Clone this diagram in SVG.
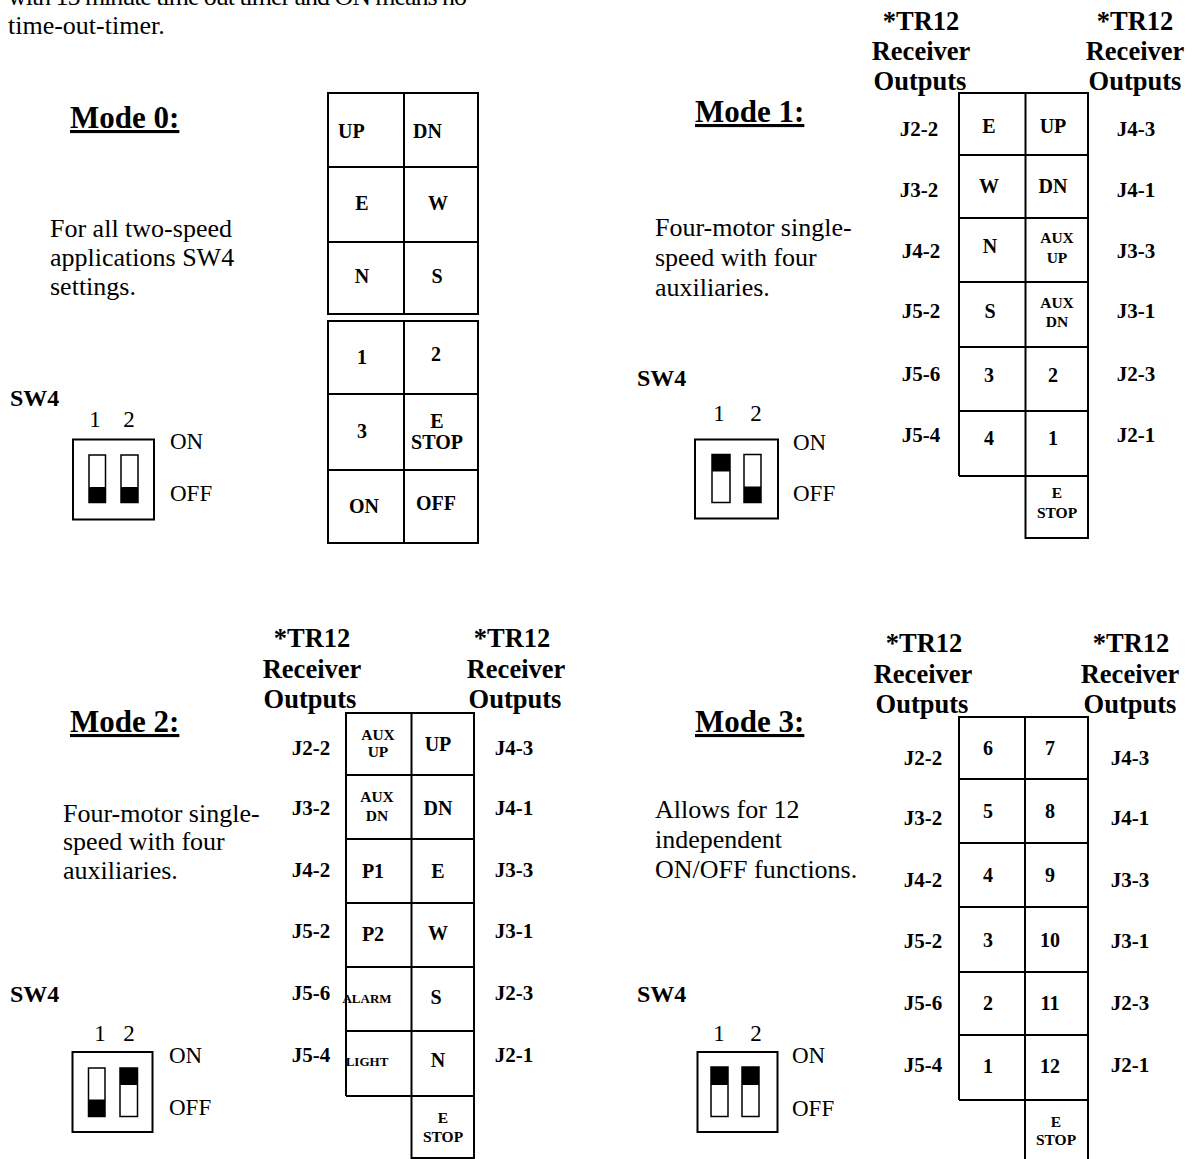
<svg xmlns="http://www.w3.org/2000/svg" width="1196" height="1159" viewBox="0 0 1196 1159">
<style>
text { font-family: "Liberation Serif", "Times New Roman", serif; fill: #000; }
.body { font-size: 26px; }
.mode { font-size: 31px; font-weight: bold; text-decoration: underline; }
.sw { font-size: 24px; font-weight: bold; }
.hdr { font-size: 26.5px; font-weight: bold; text-anchor: middle; }
.j { font-size: 21px; font-weight: bold; text-anchor: middle; }
.c { font-size: 20px; font-weight: bold; text-anchor: middle; }
.s { font-size: 15.5px; font-weight: bold; text-anchor: middle; }
.xs { font-size: 13px; font-weight: bold; text-anchor: middle; }
.dip { font-size: 23px; }
.num { font-size: 23px; text-anchor: middle; }
.grid { fill: none; stroke: #000; stroke-width: 2; }
.box { fill: #fff; stroke: #000; stroke-width: 2; }
.sl { fill: #fff; stroke: #000; stroke-width: 1.5; }
.knob { fill: #000; }
</style>
<rect width="1196" height="1159" fill="#fff"/>

<g id="intro">
<text class="body" x="8" y="5" textLength="459" lengthAdjust="spacing">with 15 minute time out timer and ON means no</text>
<text class="body" x="8" y="34">time-out-timer.</text>
</g>

<!-- Mode 0 -->
<g id="mode0-text">
<text class="mode" x="70" y="128">Mode 0:</text>
<text class="body" x="50" y="237">For all two-speed</text>
<text class="body" x="50" y="266">applications SW4</text>
<text class="body" x="50" y="295">settings.</text>
<text class="sw" x="10" y="406">SW4</text>
</g>
<g id="mode0-switch">
<text class="num" x="95" y="427">1</text>
<text class="num" x="129" y="427">2</text>
<rect class="box" x="73" y="439.5" width="81" height="80"/>
<rect class="sl" x="89" y="455" width="16.5" height="47.5"/>
<rect class="knob" x="89" y="487" width="16.5" height="15.5"/>
<rect class="sl" x="121" y="455" width="17" height="47.5"/>
<rect class="knob" x="121" y="487" width="17" height="15.5"/>
<text class="dip" x="170" y="449">ON</text>
<text class="dip" x="170" y="501">OFF</text>
</g>
<g id="mode0-grid">
<rect class="grid" x="328" y="93" width="150" height="221"/>
<rect class="grid" x="328" y="321" width="150" height="222"/>
<path class="grid" d="M404 93V314M404 321V543M328 167H478M328 242H478M328 394H478M328 470H478"/>
<text class="c" x="338" y="138" style="text-anchor:start">UP</text>
<text class="c" x="413" y="138" style="text-anchor:start">DN</text>
<text class="c" x="362" y="210">E</text>
<text class="c" x="438" y="210">W</text>
<text class="c" x="362" y="283">N</text>
<text class="c" x="437" y="283">S</text>
<text class="c" x="362" y="364">1</text>
<text class="c" x="436" y="361">2</text>
<text class="c" x="362" y="438">3</text>
<text class="c" x="437" y="428">E</text>
<text class="c" x="437" y="449">STOP</text>
<text class="c" x="364" y="513">ON</text>
<text class="c" x="436" y="510">OFF</text>
</g>

<!-- Mode 1 -->
<g id="mode1-text">
<text class="mode" x="695" y="122">Mode 1:</text>
<text class="body" x="655" y="236">Four-motor single-</text>
<text class="body" x="655" y="266">speed with four</text>
<text class="body" x="655" y="296">auxiliaries.</text>
<text class="sw" x="637" y="386">SW4</text>
</g>
<g id="mode1-switch">
<text class="num" x="719" y="421">1</text>
<text class="num" x="756" y="421">2</text>
<rect class="box" x="695" y="439.5" width="83" height="79"/>
<rect class="sl" x="712" y="454.5" width="18" height="48"/>
<rect class="knob" x="712" y="454.5" width="18" height="17"/>
<rect class="sl" x="744" y="454.5" width="17" height="48"/>
<rect class="knob" x="744" y="486.5" width="17" height="16"/>
<text class="dip" x="793" y="450">ON</text>
<text class="dip" x="793" y="501">OFF</text>
</g>
<g id="mode1-headers">
<text class="hdr" x="921" y="30">*TR12</text>
<text class="hdr" x="921" y="60">Receiver</text>
<text class="hdr" x="920" y="90">Outputs</text>
<text class="hdr" x="1135" y="30">*TR12</text>
<text class="hdr" x="1135" y="60">Receiver</text>
<text class="hdr" x="1135" y="90">Outputs</text>
</g>
<g id="mode1-grid">
<path class="grid" d="M959 476V93H1088V538H1025.5V93M959 476H1088M959 155H1088M959 218H1088M959 282H1088M959 347H1088M959 411H1088"/>
<text class="j" x="919" y="136">J2-2</text>
<text class="j" x="919" y="197">J3-2</text>
<text class="j" x="921" y="258">J4-2</text>
<text class="j" x="921" y="318">J5-2</text>
<text class="j" x="921" y="381">J5-6</text>
<text class="j" x="921" y="442">J5-4</text>
<text class="j" x="1136" y="136">J4-3</text>
<text class="j" x="1136" y="197">J4-1</text>
<text class="j" x="1136" y="258">J3-3</text>
<text class="j" x="1136" y="318">J3-1</text>
<text class="j" x="1136" y="381">J2-3</text>
<text class="j" x="1136" y="442">J2-1</text>
<text class="c" x="989" y="133">E</text>
<text class="c" x="1053" y="133">UP</text>
<text class="c" x="989" y="193">W</text>
<text class="c" x="1053" y="193">DN</text>
<text class="c" x="990" y="253">N</text>
<text class="s" x="1057" y="243">AUX</text>
<text class="s" x="1057" y="263">UP</text>
<text class="c" x="990" y="318">S</text>
<text class="s" x="1057" y="308">AUX</text>
<text class="s" x="1057" y="327">DN</text>
<text class="c" x="989" y="382">3</text>
<text class="c" x="1053" y="382">2</text>
<text class="c" x="989" y="445">4</text>
<text class="c" x="1053" y="445">1</text>
<text class="s" x="1057" y="498">E</text>
<text class="s" x="1057" y="518">STOP</text>
</g>

<!-- Mode 2 -->
<g id="mode2-text">
<text class="mode" x="70" y="732">Mode 2:</text>
<text class="body" x="63" y="822">Four-motor single-</text>
<text class="body" x="63" y="850">speed with four</text>
<text class="body" x="63" y="879">auxiliaries.</text>
<text class="sw" x="10" y="1002">SW4</text>
</g>
<g id="mode2-switch">
<text class="num" x="100" y="1041">1</text>
<text class="num" x="129" y="1041">2</text>
<rect class="box" x="72.5" y="1052" width="80" height="80"/>
<rect class="sl" x="88.5" y="1068" width="16.5" height="48.5"/>
<rect class="knob" x="88.5" y="1099.5" width="16.5" height="17"/>
<rect class="sl" x="120" y="1068" width="17.5" height="48.5"/>
<rect class="knob" x="120" y="1068" width="17.5" height="17"/>
<text class="dip" x="169" y="1063">ON</text>
<text class="dip" x="169" y="1115">OFF</text>
</g>
<g id="mode2-headers">
<text class="hdr" x="312" y="647">*TR12</text>
<text class="hdr" x="312" y="678">Receiver</text>
<text class="hdr" x="310" y="708">Outputs</text>
<text class="hdr" x="512" y="647">*TR12</text>
<text class="hdr" x="516" y="678">Receiver</text>
<text class="hdr" x="515" y="708">Outputs</text>
</g>
<g id="mode2-grid">
<path class="grid" d="M346 1096V713H474V1158H411.5V713M346 1096H474M346 775H474M346 839H474M346 903H474M346 967H474M346 1031H474"/>
<text class="j" x="311" y="755">J2-2</text>
<text class="j" x="311" y="815">J3-2</text>
<text class="j" x="311" y="877">J4-2</text>
<text class="j" x="311" y="938">J5-2</text>
<text class="j" x="311" y="1000">J5-6</text>
<text class="j" x="311" y="1062">J5-4</text>
<text class="j" x="514" y="755">J4-3</text>
<text class="j" x="514" y="815">J4-1</text>
<text class="j" x="514" y="877">J3-3</text>
<text class="j" x="514" y="938">J3-1</text>
<text class="j" x="514" y="1000">J2-3</text>
<text class="j" x="514" y="1062">J2-1</text>
<text class="s" x="378" y="740">AUX</text>
<text class="s" x="378" y="757">UP</text>
<text class="c" x="438" y="751">UP</text>
<text class="s" x="377" y="802">AUX</text>
<text class="s" x="377" y="821">DN</text>
<text class="c" x="438" y="815">DN</text>
<text class="c" x="373" y="878">P1</text>
<text class="c" x="438" y="878">E</text>
<text class="c" x="373" y="941">P2</text>
<text class="c" x="438" y="940">W</text>
<text class="xs" x="367" y="1003">ALARM</text>
<text class="c" x="436" y="1004">S</text>
<text class="xs" x="367" y="1066">LIGHT</text>
<text class="c" x="438" y="1067">N</text>
<text class="s" x="443" y="1123">E</text>
<text class="s" x="443" y="1142">STOP</text>
</g>

<!-- Mode 3 -->
<g id="mode3-text">
<text class="mode" x="695" y="732">Mode 3:</text>
<text class="body" x="655" y="818">Allows for 12</text>
<text class="body" x="655" y="848">independent</text>
<text class="body" x="655" y="878">ON/OFF functions.</text>
<text class="sw" x="637" y="1002">SW4</text>
</g>
<g id="mode3-switch">
<text class="num" x="719" y="1041">1</text>
<text class="num" x="756" y="1041">2</text>
<rect class="box" x="697.5" y="1052" width="80" height="80"/>
<rect class="sl" x="711" y="1067" width="17" height="49.5"/>
<rect class="knob" x="711" y="1067" width="17" height="18"/>
<rect class="sl" x="742" y="1067" width="17" height="49.5"/>
<rect class="knob" x="742" y="1067" width="17" height="18"/>
<text class="dip" x="792" y="1063">ON</text>
<text class="dip" x="792" y="1116">OFF</text>
</g>
<g id="mode3-headers">
<text class="hdr" x="924" y="652">*TR12</text>
<text class="hdr" x="923" y="683">Receiver</text>
<text class="hdr" x="922" y="713">Outputs</text>
<text class="hdr" x="1131" y="652">*TR12</text>
<text class="hdr" x="1130" y="683">Receiver</text>
<text class="hdr" x="1130" y="713">Outputs</text>
</g>
<g id="mode3-grid">
<path class="grid" d="M959 1100V717H1088V1165M1025 1165V717M959 1100H1088M959 779H1088M959 843H1088M959 907H1088M959 972H1088M959 1035H1088"/>
<text class="j" x="923" y="765">J2-2</text>
<text class="j" x="923" y="825">J3-2</text>
<text class="j" x="923" y="887">J4-2</text>
<text class="j" x="923" y="948">J5-2</text>
<text class="j" x="923" y="1010">J5-6</text>
<text class="j" x="923" y="1072">J5-4</text>
<text class="j" x="1130" y="765">J4-3</text>
<text class="j" x="1130" y="825">J4-1</text>
<text class="j" x="1130" y="887">J3-3</text>
<text class="j" x="1130" y="948">J3-1</text>
<text class="j" x="1130" y="1010">J2-3</text>
<text class="j" x="1130" y="1072">J2-1</text>
<text class="c" x="988" y="755">6</text>
<text class="c" x="1050" y="755">7</text>
<text class="c" x="988" y="818">5</text>
<text class="c" x="1050" y="818">8</text>
<text class="c" x="988" y="882">4</text>
<text class="c" x="1050" y="882">9</text>
<text class="c" x="988" y="947">3</text>
<text class="c" x="1050" y="947">10</text>
<text class="c" x="988" y="1010">2</text>
<text class="c" x="1050" y="1010">11</text>
<text class="c" x="988" y="1073">1</text>
<text class="c" x="1050" y="1073">12</text>
<text class="s" x="1056" y="1127">E</text>
<text class="s" x="1056" y="1145">STOP</text>
</g>
</svg>
